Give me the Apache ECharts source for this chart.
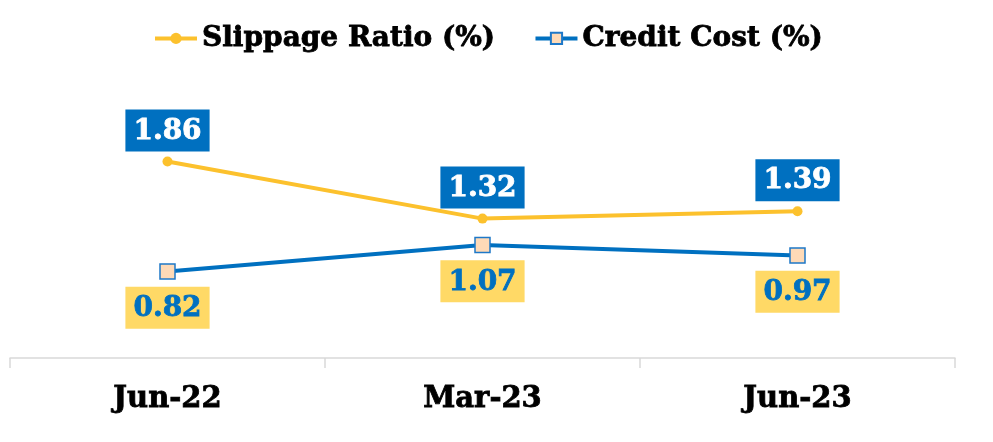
<!DOCTYPE html>
<html>
<head>
<meta charset="utf-8">
<script src="https://cdn.jsdelivr.net/npm/echarts@6/dist/echarts.min.js"></script>
<style>
  html, body { margin: 0; padding: 0; background: #fff; }
  #chart { width: 993px; height: 442px; }
</style>
</head>
<body>
<div id="chart"></div>
<script>
// data
var periods = ['Jun-22', 'Mar-23', 'Jun-23'];
var slippageRatio = [1.86, 1.32, 1.39];
var creditCost = [0.82, 1.07, 0.97];

var serifFont = '"DejaVu Serif", serif';

var chart = echarts.init(document.getElementById('chart'));
var option = {
  animation: false,
  legend: {
    top: 19,
    left: 148,
    itemWidth: 42,
    itemHeight: 14,
    itemGap: 38,
    lineStyle: { width: 4 },
    textStyle: {
      fontFamily: serifFont,
      fontWeight: 'bold',
      fontSize: 28,
      color: '#000',
      textBorderColor: '#000',
      textBorderWidth: 0.8
    },
    data: ['Slippage Ratio (%)', 'Credit Cost (%)']
  },
  grid: {
    left: 10,
    right: 38,
    top: 94,
    bottom: 84,
    containLabel: false,
    outerBoundsMode: 'none'
  },
  xAxis: {
    type: 'category',
    data: periods,
    boundaryGap: true,
    axisLine: { lineStyle: { color: '#d9d9d9', width: 1.5 } },
    axisTick: { show: true, length: 10, lineStyle: { color: '#d9d9d9', width: 1.5 } },
    axisLabel: {
      margin: 27,
      fontFamily: serifFont,
      fontWeight: 'bold',
      fontSize: 29,
      color: '#000',
      textBorderColor: '#000',
      textBorderWidth: 0.8
    }
  },
  yAxis: {
    type: 'value',
    min: 0,
    max: 2.5,
    show: false,
    splitLine: { show: false }
  },
  series: [
    {
      name: 'Slippage Ratio (%)',
      type: 'line',
      data: slippageRatio,
      symbol: 'circle',
      symbolSize: 10,
      lineStyle: { color: '#FCC12D', width: 4 },
      itemStyle: { color: '#FCC12D' },
      label: {
        show: true,
        position: 'top',
        distance: 5,
        formatter: function (p) { return p.value.toFixed(2); },
        backgroundColor: '#0070C0',
        color: '#fff',
        textBorderColor: '#fff',
        textBorderWidth: 0.8,
        fontFamily: serifFont,
        fontWeight: 'bold',
        fontSize: 28,
        padding: [8, 8, 6, 8]
      }
    },
    {
      name: 'Credit Cost (%)',
      type: 'line',
      data: creditCost,
      symbol: 'rect',
      symbolSize: 15,
      lineStyle: { color: '#0070C0', width: 4 },
      itemStyle: { color: '#FEDAB7', borderColor: '#1E78C8', borderWidth: 1.5 },
      label: {
        show: true,
        position: 'bottom',
        distance: 7,
        formatter: function (p) { return p.value.toFixed(2); },
        backgroundColor: '#FFD966',
        color: '#0070C0',
        textBorderColor: '#0070C0',
        textBorderWidth: 0.8,
        fontFamily: serifFont,
        fontWeight: 'bold',
        fontSize: 28,
        padding: [8, 8, 6, 8]
      }
    }
  ]
};
chart.setOption(option);
</script>
</body>
</html>
